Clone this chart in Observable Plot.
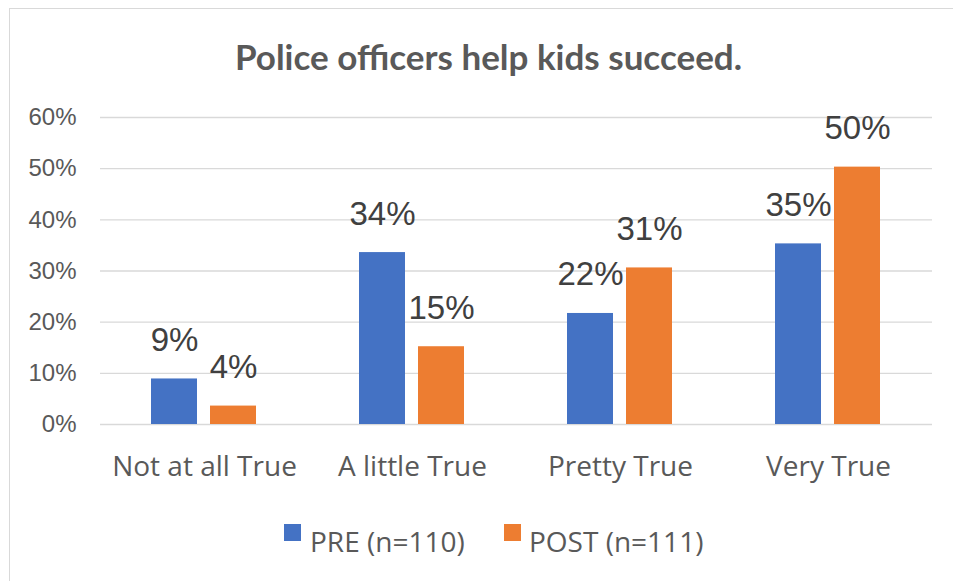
<!DOCTYPE html>
<html>
<head>
<meta charset="utf-8">
<script src="https://cdn.jsdelivr.net/npm/d3@7"></script>
<script src="https://cdn.jsdelivr.net/npm/@observablehq/plot@0.6"></script>
<style>
  html, body { margin: 0; padding: 0; background: #fff; }
  #root { position: relative; width: 953px; height: 581px; overflow: hidden; background: #fff; }
  #frame { position: absolute; left: 9px; top: 8px; width: 1000px; height: 700px;
           border-left: 1.5px solid #d9d9d9; border-top: 1.5px solid #d9d9d9; }
  #title { position: absolute; left: 24px; width: 929px; top: 39px; text-align: center;
           font-family: Lato, sans-serif; font-weight: 700; font-size: 35px; line-height: 35px; color: #595959; white-space: nowrap; }
  #chart { position: absolute; left: 0; top: 90px; }
  .lg { position: absolute; font-family: "Open Sans", sans-serif; font-size: 28px; line-height: 28px; color: #595959; white-space: nowrap; }
  .sw { position: absolute; width: 17px; height: 17px; }
</style>
</head>
<body>
<div id="root">
  <div id="frame"></div>
  <div id="title"></div>
  <div id="chart"></div>
  <div id="legend"></div>
</div>
<script>
const title = "Police officers help kids succeed.";
const categories = ["Not at all True", "A little True", "Pretty True", "Very True"];
const seriesKeys = ["PRE", "POST"];
const seriesNames = ["PRE (n=110)", "POST (n=111)"];
const seriesColors = ["#4472C4", "#ED7D31"];
const preValues = [8.9, 33.6, 21.7, 35.3];
const postValues = [3.6, 15.2, 30.6, 50.3];
const yTicks = [0, 10, 20, 30, 40, 50, 60];

const data = categories.flatMap((c, i) => [
  {category: c, series: seriesKeys[0], value: preValues[i]},
  {category: c, series: seriesKeys[1], value: postValues[i]}
]);

document.getElementById("title").textContent = title;

const chart = Plot.plot({
  width: 953,
  height: 400,
  marginLeft: 100,
  marginRight: 21,
  marginTop: 27,
  marginBottom: 66,
  style: {background: "transparent", overflow: "visible"},
  fx: {domain: categories, padding: 0, label: null},
  x: {domain: seriesKeys, paddingInner: 0.218, paddingOuter: 0.857, axis: null},
  y: {domain: [0, 60], axis: null},
  color: {domain: seriesKeys, range: seriesColors},
  marks: [
    Plot.gridY(yTicks, {stroke: "#d9d9d9", strokeOpacity: 1, strokeWidth: 1.4}),
    Plot.axisY(yTicks, {tickFormat: d => d + "%", tickSize: 0, tickPadding: 24, fontSize: 24,
      fill: "#595959", label: null, fontFamily: "Liberation Sans"}),
    Plot.axisFx({anchor: "bottom", tickSize: 0, tickPadding: 32, fontSize: 28, fill: "#595959", label: null,
      fontFamily: "Open Sans"}),
    Plot.barY(data, {fx: "category", x: "series", y: "value", fill: "series"}),
    Plot.text(data, {fx: "category", x: "series", y: "value", text: d => Math.round(d.value) + "%",
      lineAnchor: "bottom", dy: -28, fontSize: 33, fill: "#404040", fontFamily: "Liberation Sans"})
  ]
});
document.getElementById("chart").appendChild(chart);

// legend
const legend = document.getElementById("legend");
const swatchX = [284, 504];
const textX = [310, 529];
seriesNames.forEach((name, i) => {
  const sw = document.createElement("div");
  sw.className = "sw";
  sw.style.left = swatchX[i] + "px";
  sw.style.top = "524px";
  sw.style.background = seriesColors[i];
  legend.appendChild(sw);
  const t = document.createElement("div");
  t.className = "lg";
  t.style.left = textX[i] + "px";
  t.style.top = "527px";
  t.textContent = name;
  legend.appendChild(t);
});
</script>
</body>
</html>
